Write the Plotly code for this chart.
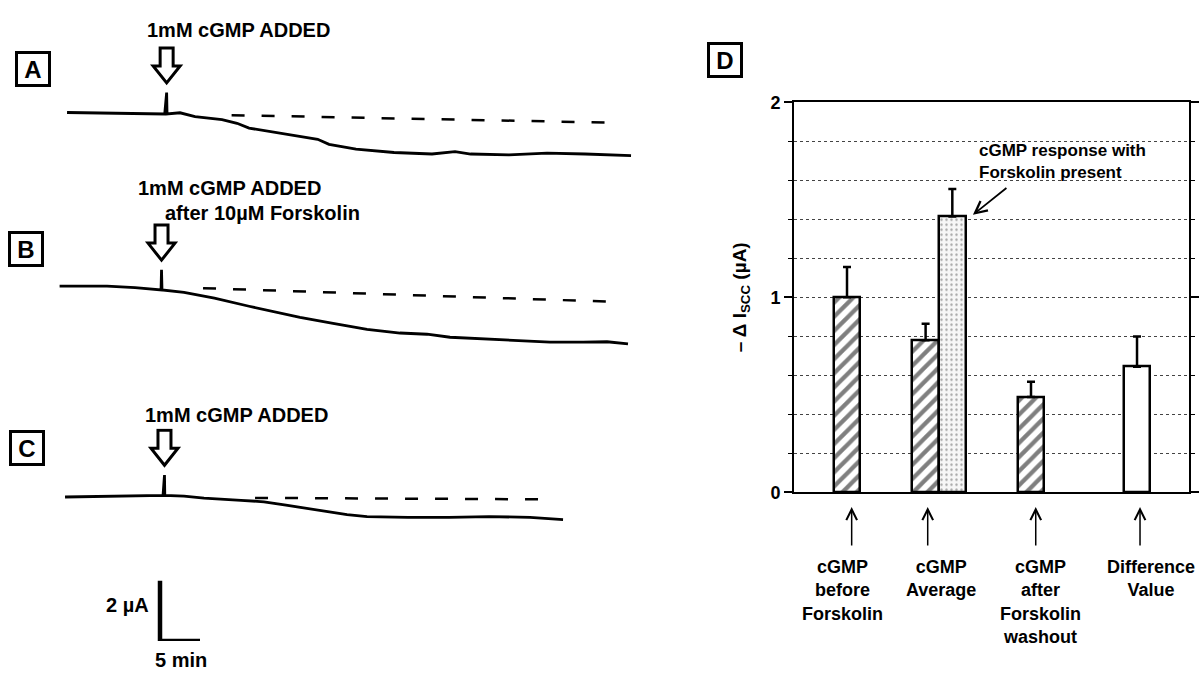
import plotly.graph_objects as go

W, H = 1201, 685
FONT = "Liberation Sans, Arial, Helvetica, sans-serif"

# ---------------- Panel D data ----------------
group_labels = ["cGMP<br>before<br>Forskolin", "cGMP<br>Average",
                "cGMP<br>after<br>Forskolin<br>washout", "Difference<br>Value"]
hatched_vals = [1.00, 0.78, 0.49]
hatched_err = [0.155, 0.085, 0.077]
forsk_vals = [1.415]
forsk_err = [0.14]
diff_vals = [0.645]
diff_err = [0.155]
y_ticks = [0, 1, 2]
annot_text = "cGMP response with<br>Forskolin present"

# ---------------- Traces A, B, C (time in min, current in uA rel. to start) ----------------
a_t = [8.38, 11.25, 15.81, 20.59, 20.83, 20.88, 22.5, 24.38, 27.75, 29.63, 31.13, 34.88,
       37.33, 39.71, 41.13, 44.5, 49.25, 54.0, 56.88, 58.83, 63.63, 68.38, 73.13, 78.88]
a_v = [0.03, 0.02, -0.01, -0.02, 0.69, -0.02, 0.02, -0.11, -0.21, -0.33, -0.49, -0.65,
       -0.76, -0.86, -1.03, -1.19, -1.30, -1.35, -1.27, -1.35, -1.38, -1.32, -1.35, -1.40]
a_base_t = [28.95, 77.0]
a_base_v = [-0.06, -0.31]

b_t = [7.45, 13.38, 16.88, 20.13, 20.19, 20.25, 23.0, 26.8, 31.13, 34.93, 37.5, 41.63,
       45.88, 50.0, 53.38, 56.25, 60.38, 64.63, 68.75, 72.88, 75.88, 78.5]
b_v = [0.02, 0.02, -0.03, -0.11, 0.56, -0.11, -0.19, -0.38, -0.65, -0.86, -1.02, -1.22,
       -1.42, -1.54, -1.58, -1.68, -1.74, -1.80, -1.84, -1.84, -1.83, -1.90]
b_base_t = [25.38, 77.5]
b_base_v = [-0.05, -0.51]

c_t = [8.13, 15.81, 20.38, 20.56, 20.6, 23.0, 25.5, 30.13, 33.0, 35.75, 38.25, 40.83,
       43.38, 45.88, 51.0, 56.13, 61.13, 66.25, 70.38]
c_v = [-0.02, 0.0, 0.03, 0.71, 0.03, 0.01, -0.06, -0.13, -0.18, -0.29, -0.39, -0.51,
       -0.61, -0.67, -0.70, -0.70, -0.67, -0.70, -0.77]
c_base_t = [31.88, 68.5]
c_base_v = [-0.05, -0.10]

event_t = [20.83, 20.19, 20.56]      # cGMP addition times (A, B, C)
spike_top = [0.69, 0.56, 0.71]
label_added = "1mM cGMP ADDED"
label_forsk = "after 10\u00b5M Forskolin"
scale_uA = 2
scale_min = 5
scale_t0 = 20.0

# ---------------- helpers (layout geometry) ----------------
def px(x):
    return x / W

def py(y):
    return 1 - y / H

PX_PER_UA = 31.0
PX_PER_MIN = 8.0
LEFT_W = 660

fig = go.Figure()

# ---- Panel D bars ----
bar_pos_hatched = [1.342, 3.332, 6.0]
bar_pos_forsk = [4.008]
bar_pos_diff = [8.684]
BW = 0.68
line_style = dict(color="black", width=2.5)
err_style = dict(color="black", thickness=2.5, width=4)

fig.add_trace(go.Bar(
    x=bar_pos_hatched, y=hatched_vals, width=BW,
    marker=dict(color="white", line=line_style,
                pattern=dict(shape="/", fgcolor="black", bgcolor="white", size=10, solidity=0.42)),
    error_y=dict(type="data", symmetric=False, array=hatched_err, arrayminus=[0, 0, 0], **err_style),
    xaxis="x", yaxis="y", showlegend=False))
fig.add_trace(go.Bar(
    x=bar_pos_forsk, y=forsk_vals, width=BW,
    marker=dict(color="white", line=line_style,
                pattern=dict(shape=".", fgcolor="#555", bgcolor="#f7f7f7", size=5, solidity=0.18)),
    error_y=dict(type="data", symmetric=False, array=forsk_err, arrayminus=[0], **err_style),
    xaxis="x", yaxis="y", showlegend=False))
fig.add_trace(go.Bar(
    x=bar_pos_diff, y=diff_vals, width=BW,
    marker=dict(color="white", line=line_style),
    error_y=dict(type="data", symmetric=False, array=diff_err, arrayminus=[0], **err_style),
    xaxis="x", yaxis="y", showlegend=False))

# ---- Left traces ----
trace_sets = [(a_t, a_v, a_base_t, a_base_v, "y2"),
              (b_t, b_v, b_base_t, b_base_v, "y3"),
              (c_t, c_v, c_base_t, c_base_v, "y4")]
for t, v, bt, bv, ya in trace_sets:
    fig.add_trace(go.Scatter(x=t, y=v, mode="lines", line=dict(color="black", width=2.8),
                             xaxis="x2", yaxis=ya, showlegend=False, hoverinfo="skip"))
    fig.add_trace(go.Scatter(x=bt, y=bv, mode="lines",
                             line=dict(color="black", width=2.5, dash="13px,17px"),
                             xaxis="x2", yaxis=ya, showlegend=False, hoverinfo="skip"))

# scale bar
fig.add_trace(go.Scatter(x=[scale_t0, scale_t0, scale_t0 + scale_min], y=[scale_uA, 0, 0],
                         mode="lines", line=dict(color="black", width=4.5),
                         xaxis="x2", yaxis="y5", showlegend=False, hoverinfo="skip"))

# ---------------- axes ----------------
half = 70
baselines = [106.5, 285.0, 501.0]
yr = half / PX_PER_UA
layout_axes = {}
for i, (b, name) in enumerate(zip(baselines, ["yaxis2", "yaxis3", "yaxis4"])):
    layout_axes[name] = dict(domain=[py(b + half), py(b - half)], range=[-yr, yr],
                             visible=False, anchor="x2", fixedrange=True)
layout_axes["yaxis5"] = dict(domain=[py(650), py(570)], range=[0, 80 / PX_PER_UA],
                             visible=False, anchor="x2")
layout_axes["xaxis2"] = dict(domain=[0, px(LEFT_W)], range=[0, LEFT_W / PX_PER_MIN],
                             visible=False, anchor="y2")

grid_col = "#444"
fig.update_layout(
    width=W, height=H, autosize=False,
    margin=dict(l=0, r=0, t=0, b=0, pad=0),
    paper_bgcolor="white", plot_bgcolor="white",
    font=dict(family=FONT, color="black"),
    barmode="overlay", bargap=0,
    xaxis=dict(domain=[px(794), px(1189)], range=[0, 10], showline=True, mirror=True,
               linecolor="black", linewidth=2, ticks="", showticklabels=False,
               showgrid=False, zeroline=False, anchor="y"),
    yaxis=dict(domain=[py(497), py(95)], range=[0, 2], showline=True, mirror="ticks",
               linecolor="black", linewidth=2, ticks="outside", ticklen=8, tickwidth=2,
               tickcolor="black", tickvals=y_ticks, ticktext=[str(v) for v in y_ticks],
               tickfont=dict(size=18, weight="bold"), showgrid=True, gridcolor=grid_col,
               griddash="dot", gridwidth=1, zeroline=False, anchor="x",
               minor=dict(dtick=0.2, ticks="outside", ticklen=4, tickwidth=1, tickcolor="black",
                          showgrid=True, gridcolor=grid_col, griddash="dot", gridwidth=1)),
    **layout_axes,
)

# ---------------- hollow arrows above traces ----------------
arrow_path = "M 0 0 L -13.5 17 L -6.5 17 L -6.5 35 L 6.5 35 L 6.5 17 L 13.5 17 Z"
ARROW_GAP_UA = 10 / PX_PER_UA
for t, top, ya in zip(event_t, spike_top, ["y2", "y3", "y4"]):
    fig.add_shape(type="path", path=arrow_path, xref="x2", yref=ya,
                  xsizemode="pixel", ysizemode="pixel", xanchor=t, yanchor=top + ARROW_GAP_UA,
                  line=dict(color="black", width=3), fillcolor="white", layer="above")

# ---------------- text annotations ----------------
ann = []
lab_font = dict(family=FONT, size=20, color="black", weight="bold")
# panel boxes
for letter, cx, cy in [("A", 33, 60.5), ("B", 26, 246), ("C", 26.5, 451.5), ("D", 724.5, 52)]:
    ann.append(dict(text=letter, x=px(cx), y=py(cy), xref="paper", yref="paper",
                    showarrow=False, xanchor="center", yanchor="middle",
                    font=dict(family=FONT, size=24, color="black", weight="bold"),
                    width=28, height=28, bordercolor="black", borderwidth=3, borderpad=1,
                    bgcolor="white"))
# trace labels
for cx, cy in [(238, 21), (229, 183), (236, 417)]:
    ann.append(dict(text=label_added, x=px(cx), y=py(cy), xref="paper", yref="paper",
                    showarrow=False, font=lab_font, xanchor="center", yanchor="middle"))
ann.append(dict(text=label_forsk, x=px(163), y=py(209), xref="paper", yref="paper",
                showarrow=False, font=lab_font, xanchor="left", yanchor="middle"))
# scale bar labels
ann.append(dict(text=f"{scale_uA} \u00b5A", x=px(151), y=py(613), xref="paper", yref="paper",
                showarrow=False, font=lab_font, xanchor="right", yanchor="middle"))
ann.append(dict(text=f"{scale_min} min", x=px(181), y=py(670), xref="paper", yref="paper",
                showarrow=False, font=lab_font, xanchor="center", yanchor="middle"))

# panel D y title
ann.append(dict(text="\u2013 \u0394 I<sub>SCC</sub> (\u00b5A)", x=px(741), y=py(296),
                xref="paper", yref="paper", showarrow=False, textangle=-90,
                font=dict(family=FONT, size=19, color="black", weight="bold"),
                xanchor="center", yanchor="middle"))
# response annotation
ann.append(dict(text=annot_text, x=px(977), y=py(156), xref="paper", yref="paper",
                showarrow=False, align="left", xanchor="left", yanchor="middle",
                font=dict(family=FONT, size=17, color="black", weight="bold")))
ann.append(dict(text="", x=4.53, y=1.423, xref="x", yref="y", showarrow=True,
                ax=35, ay=-28, arrowhead=5, arrowsize=1.3, arrowwidth=1.8, arrowcolor="black",
                standoff=0))
# group arrows + labels (x in data units of panel D, y in paper units below the axis)
arrow_pos = [1.46, 3.385, 6.12, 8.76]
label_pos = [1.24, 3.72, 6.23, 9.05]
for xa, xl, lab in zip(arrow_pos, label_pos, group_labels):
    ann.append(dict(text="", x=xa, y=py(512), xref="x", yref="paper", showarrow=True,
                    ax=0, ay=40, arrowhead=5, arrowsize=1.4, arrowwidth=1.5,
                    arrowcolor="black", standoff=0))
    ann.append(dict(text=lab, x=xl, y=py(561), xref="x", yref="paper", showarrow=False,
                    xanchor="center", yanchor="top", align="center",
                    font=dict(family=FONT, size=18, color="black", weight="bold")))

fig.update_layout(annotations=ann)

fig.write_html("out.html", config={"displayModeBar": False},
               post_script="document.body.style.margin='0px';")
